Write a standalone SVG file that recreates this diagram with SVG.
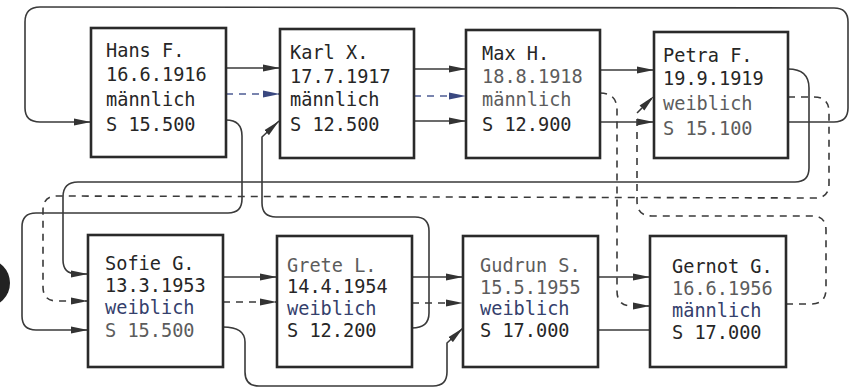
<svg xmlns="http://www.w3.org/2000/svg" width="854" height="389" viewBox="0 0 854 389">
<style>
.box{fill:#fff;stroke:#2a2a2a;stroke-width:2.6}
.t{font-family:"DejaVu Sans Mono","Liberation Mono",monospace;font-size:18.6px;fill:#262626}
.g{fill:#5c5c5c}
.b{fill:#34406c}
.c{fill:none;stroke:#3a3a3a;stroke-width:1.6}
.d{stroke-dasharray:7 6}
.bl{stroke:#4e5c94}
</style>
<defs>
<marker id="a" markerUnits="userSpaceOnUse" markerWidth="18" markerHeight="8" refX="17" refY="4" orient="auto">
<path d="M0,0.6 L17,4 L0,7.4 z" fill="#333"/>
</marker>
<marker id="ab" markerUnits="userSpaceOnUse" markerWidth="18" markerHeight="8" refX="17" refY="4" orient="auto">
<path d="M0,0.6 L17,4 L0,7.4 z" fill="#3a4880"/>
</marker>
</defs>
<rect width="854" height="389" fill="#fff"/>
<circle cx="-14" cy="283" r="24" fill="#222"/>

<g id="connectors">
<path class="c" d="M226 68 L280 68" marker-end="url(#a)"/>
<path class="c d bl" d="M226 94 L280 94" marker-end="url(#ab)"/>
<path class="c" d="M414 69 L466 69" marker-end="url(#a)"/>
<path class="c d bl" d="M414 96 L466 96" marker-end="url(#ab)"/>
<path class="c" d="M414 121 L466 121" marker-end="url(#a)"/>
<path class="c" d="M600 70 L654 70" marker-end="url(#a)"/>
<path class="c" d="M600 122 L654 122" marker-end="url(#a)"/>
<path class="c" d="M788 122 L834 122 Q848 122 848 108 L848 22 Q848 8 834 8 L40 7 Q25 7 25 22 L25 108 Q25 122 40 122 L91 122" marker-end="url(#a)"/>
<path class="c" d="M226 120 Q242 120 242 136 L242 199 Q242 213 228 213 L36 213 Q22 213 22 227 L22 316 Q22 330 36 330 L88 330" marker-end="url(#a)"/>
<path class="c" d="M788 69 Q809 69 809 88 L809 168 Q809 182 795 182 L78 182 Q63 182 63 197 L63 260 Q63 274 77 274 L88 274" marker-end="url(#a)"/>
<path class="c d" d="M788 97 L814 97 Q829 97 829 112 L829 184 Q829 198 815 198 L57 196 Q43 196 43 210 L43 287 Q43 301 57 301 L88 301" marker-end="url(#a)"/>
<path class="c" d="M223 277 L277 277" marker-end="url(#a)"/>
<path class="c d" d="M223 302 L277 302" marker-end="url(#a)"/>
<path class="c" d="M412 277 L463 277" marker-end="url(#a)"/>
<path class="c d" d="M412 303 L463 303" marker-end="url(#a)"/>
<path class="c" d="M598 277 L650 277" marker-end="url(#a)"/>
<path class="c" d="M598 330 L650 330"/>
<path class="c" d="M223 327 Q245 327 245 342 L245 372 Q245 386 259 386 L433 386 Q447 386 447 372 L447 343 L463 328" marker-end="url(#a)"/>
<path class="c" d="M412 328 Q429 328 429 313 L429 231 Q429 217 415 217 L276 217 Q262 217 262 203 L262 137 L279 121" marker-end="url(#a)"/>
<path class="c d" d="M600 93 Q617 93 617 110 L617 291 Q617 306 632 306 L650 306" marker-end="url(#a)"/>
<path class="c d" d="M786 304 L811 304 Q826 304 826 289 L826 230 Q826 216 812 216 L652 216 Q637 216 637 201 L637 113 L654 96" marker-end="url(#a)"/>
</g>

<g id="n-hans">
<rect class="box" x="91" y="28" width="135" height="129"/>
<text class="t" x="106" y="56.5">Hans F.</text>
<text class="t" x="106" y="81">16.6.1916</text>
<text class="t" x="106" y="105.5">männlich</text>
<text class="t" x="106" y="130.5">S 15.500</text>
</g>
<g id="n-karl">
<rect class="box" x="280" y="29" width="134" height="129"/>
<text class="t" x="290" y="59">Karl X.</text>
<text class="t" x="290" y="82.5">17.7.1917</text>
<text class="t" x="290" y="106">männlich</text>
<text class="t" x="290" y="131">S 12.500</text>
</g>
<g id="n-max">
<rect class="box" x="466" y="30" width="134" height="128"/>
<text class="t" x="482" y="60">Max H.</text>
<text class="t g" x="482" y="82.5">18.8.1918</text>
<text class="t g" x="482" y="106">männlich</text>
<text class="t" x="482" y="131">S 12.900</text>
</g>
<g id="n-petra">
<rect class="box" x="654" y="32" width="134" height="126"/>
<text class="t" x="663" y="62">Petra F.</text>
<text class="t" x="663" y="85">19.9.1919</text>
<text class="t g" x="663" y="110">weiblich</text>
<text class="t g" x="663" y="135">S 15.100</text>
</g>
<g id="n-sofie">
<rect class="box" x="88" y="235" width="135" height="132"/>
<text class="t" x="105" y="270">Sofie G.</text>
<text class="t" x="105" y="292">13.3.1953</text>
<text class="t b" x="105" y="314">weiblich</text>
<text class="t g" x="105" y="337">S 15.500</text>
</g>
<g id="n-grete">
<rect class="box" x="277" y="236" width="135" height="131"/>
<text class="t g" x="287" y="272">Grete L.</text>
<text class="t" x="287" y="293">14.4.1954</text>
<text class="t b" x="287" y="315">weiblich</text>
<text class="t" x="287" y="337">S 12.200</text>
</g>
<g id="n-gudrun">
<rect class="box" x="463" y="236" width="135" height="131"/>
<text class="t g" x="480" y="272">Gudrun S.</text>
<text class="t g" x="480" y="294">15.5.1955</text>
<text class="t b" x="480" y="315">weiblich</text>
<text class="t" x="480" y="337">S 17.000</text>
</g>
<g id="n-gernot">
<rect class="box" x="650" y="236" width="136" height="131"/>
<text class="t" x="672" y="273">Gernot G.</text>
<text class="t g" x="672" y="295">16.6.1956</text>
<text class="t b" x="672" y="317">männlich</text>
<text class="t" x="672" y="339">S 17.000</text>
</g>
</svg>
